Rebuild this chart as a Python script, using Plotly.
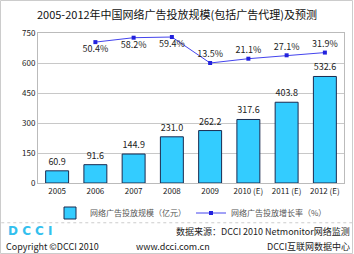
import plotly.graph_objects as go

categories = ["2005", "2006", "2007", "2008", "2009", "2010 (E)", "2011 (E)", "2012 (E)"]
scale_values = [60.9, 91.6, 144.9, 231.0, 262.2, 317.6, 403.8, 532.6]
growth_cats = ["2006", "2007", "2008", "2009", "2010 (E)", "2011 (E)", "2012 (E)"]
growth_values = [50.4, 58.2, 59.4, 13.5, 21.1, 27.1, 31.9]
growth_pos = ["bottom center"] * 3 + ["top center"] * 4
y_ticks = [0, 150, 300, 450, 600, 750]

FONT = "Noto Sans CJK SC, DejaVu Sans, sans-serif"

fig = go.Figure()
fig.add_trace(go.Bar(
    x=categories, y=scale_values, name="网络广告投放规模（亿元）",
    marker=dict(color="#33CCFF", line=dict(color="#1a2a50", width=1)),
    width=0.6,
    text=[f"{v:.1f}" for v in scale_values], textposition="outside",
    textfont=dict(size=9, color="#222222", family=FONT),
    cliponaxis=False,
))
fig.add_trace(go.Scatter(
    x=growth_cats, y=growth_values, name="网络广告投放增长率（%）",
    mode="lines+markers+text", yaxis="y2",
    line=dict(color="#4444EE", width=1),
    marker=dict(symbol="square", size=4, color="#2222DD"),
    text=[f"{v:.1f}%" for v in growth_values], textposition=growth_pos,
    textfont=dict(size=9, color="#222222", family=FONT),
    cliponaxis=False,
))

fig.update_layout(
    width=354, height=254,
    margin=dict(l=38, r=10, t=33, b=71),
    paper_bgcolor="white", plot_bgcolor="white",
    font=dict(family=FONT, size=9, color="#222222"),
    showlegend=True,
    legend=dict(orientation="h", x=0.5, xanchor="center", y=-0.2, yanchor="middle",
                font=dict(size=8, color="#555555"), itemwidth=30,
                tracegroupgap=0, bgcolor="rgba(0,0,0,0)"),
    title=dict(text="2005-2012年中国网络广告投放规模(包括广告代理)及预测",
               x=0.5, xanchor="center", y=0.94, yanchor="middle",
               font=dict(size=11, color="#111111", family=FONT)),
    xaxis=dict(showgrid=False, showline=True, linecolor="#bbbbbb", mirror=True,
               ticks="", tickfont=dict(size=8, color="#222222")),
    yaxis=dict(range=[0, 750], tickvals=y_ticks, showgrid=True, gridcolor="#c8c8c8",
               showline=True, linecolor="#bbbbbb", mirror=True, zeroline=False,
               ticks="", tickfont=dict(size=8, color="#222222")),
    yaxis2=dict(range=[-198.5, 66.5], overlaying="y", side="right", visible=False),
    bargap=0.4,
)

# outer border of the picture
fig.add_shape(type="rect", xref="paper", yref="paper",
              x0=-37.5 / 306, x1=1 + 8.5 / 306, y0=-70.5 / 150, y1=1 + 32.5 / 150,
              line=dict(color="#cccccc", width=1))
fig.add_shape(type="line", xref="paper", yref="paper", x0=-0.12, x1=1.03,
              y0=-0.265, y1=-0.265, line=dict(color="#cccccc", width=1, dash="dot"))
fig.add_annotation(text="<b>D C C I</b>", xref="paper", yref="paper", x=-0.105, y=-0.32,
                   xanchor="left", yanchor="middle", showarrow=False,
                   font=dict(size=12, color="#33C0EE", family="DejaVu Sans"))
fig.add_annotation(text="数据来源：DCCI 2010 Netmonitor网络监测", xref="paper", yref="paper",
                   x=1.025, y=-0.32, xanchor="right", yanchor="middle", showarrow=False,
                   font=dict(size=9, color="#222222"))
fig.add_annotation(text="Copyright ©DCCI 2010", xref="paper", yref="paper", x=-0.11, y=-0.42,
                   xanchor="left", yanchor="middle", showarrow=False,
                   font=dict(size=9, color="#222222"))
fig.add_annotation(text="www.dcci.com.cn", xref="paper", yref="paper", x=0.44, y=-0.42,
                   xanchor="center", yanchor="middle", showarrow=False,
                   font=dict(size=9, color="#222222"))
fig.add_annotation(text="DCCI互联网数据中心", xref="paper", yref="paper", x=1.025, y=-0.42,
                   xanchor="right", yanchor="middle", showarrow=False,
                   font=dict(size=9, color="#222222"))

fig.write_html("out.html")
